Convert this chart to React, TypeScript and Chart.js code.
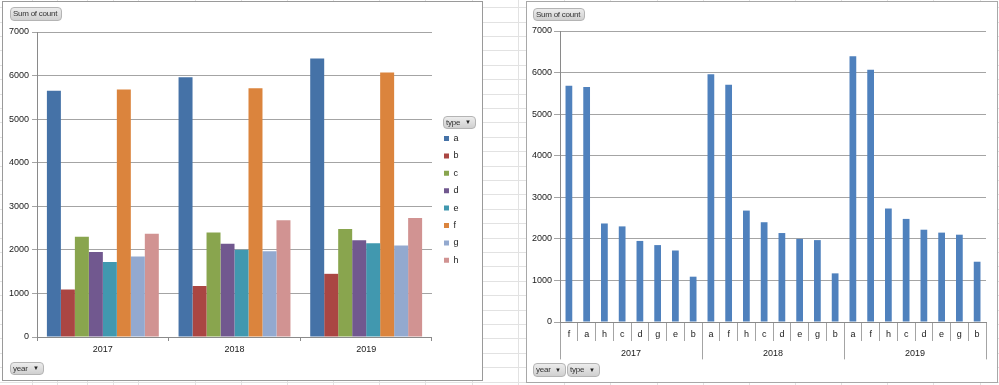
import React, { useEffect, useRef } from "react";
import { Chart, registerables } from "chart.js";
Chart.register(...registerables);

// ---------- data ----------
const years = ["2017", "2018", "2019"];
const types = ["a", "b", "c", "d", "e", "f", "g", "h"];
const countA = [5650, 5960, 6390];
const countB = [1090, 1170, 1450];
const countC = [2300, 2400, 2480];
const countD = [1950, 2140, 2220];
const countE = [1720, 2000, 2150];
const countF = [5680, 5710, 6070];
const countG = [1850, 1970, 2100];
const countH = [2370, 2680, 2730];
const seriesByType = [countA, countB, countC, countD, countE, countF, countG, countH];
const typeColors = ["#4572A7", "#AA4643", "#89A54E", "#71588F", "#4198AF", "#DB843D", "#93A9CF", "#D19392"];
const yMin = 0;
const yMax = 7000;
const yStep = 1000;

// right chart: per year, types sorted by count (descending)
const sortedPairs = years.flatMap((_, yi) =>
  types
    .map((t, ti) => ({ t, v: seriesByType[ti][yi] }))
    .sort((p, q) => q.v - p.v)
);
const sortedLabels = sortedPairs.map((p) => p.t);
const sortedValues = sortedPairs.map((p) => p.v);

const FONT = '"Liberation Sans", Arial, sans-serif';
const TXT = "#1a1a1a";
const GRID = "#a4a4a4";
const AXIS = "#8a8a8a";
const plain = (v: any) => String(v);

function LeftChart() {
  const ref = useRef<HTMLCanvasElement>(null);
  useEffect(() => {
    const chart = new Chart(ref.current!, {
      type: "bar",
      data: {
        labels: years,
        datasets: types.map((t, i) => ({
          label: t,
          data: seriesByType[i],
          backgroundColor: typeColors[i],
          borderWidth: 0,
          categoryPercentage: 0.85,
          barPercentage: 1,
        })),
      },
      options: {
        responsive: false,
        animation: false,
        events: [],
        layout: { padding: { left: 3, top: 30, right: 13.5, bottom: 22.2 } },
        plugins: {
          legend: {
            position: "right",
            labels: { boxWidth: 5, boxHeight: 5, padding: 8.4, color: TXT, font: { family: FONT, size: 9 } },
            title: { display: true, text: "", padding: 2, font: { size: 5, lineHeight: 1 } },
          },
          tooltip: { enabled: false },
        },
        scales: {
          x: {
            grid: { offset: true, drawOnChartArea: false, tickLength: 4, color: AXIS },
            border: { color: AXIS },
            ticks: { color: TXT, font: { family: FONT, size: 9 }, padding: 3 },
          },
          y: {
            min: yMin,
            max: yMax,
            ticks: { stepSize: yStep, color: TXT, font: { family: FONT, size: 9 }, padding: 3, callback: plain },
            grid: { color: GRID, tickLength: 5 },
            border: { color: AXIS },
          },
          yPad: {
            position: "right",
            display: true,
            grid: { display: false },
            border: { display: false },
            ticks: { display: false },
            afterFit: (s: any) => {
              s.width = 3.6;
            },
          },
        },
      } as any,
    });
    return () => chart.destroy();
  }, []);
  return <canvas ref={ref} width={479} height={378} style={{ position: "absolute", left: 0, top: 0 }} />;
}

function RightChart() {
  const ref = useRef<HTMLCanvasElement>(null);
  useEffect(() => {
    const chart = new Chart(ref.current!, {
      type: "bar",
      data: {
        labels: sortedLabels,
        datasets: [
          {
            label: "Sum of count",
            data: sortedValues,
            backgroundColor: "#4F81BD",
            borderWidth: 0,
            categoryPercentage: 1,
            barPercentage: 0.38,
          },
        ],
      },
      options: {
        responsive: false,
        animation: false,
        events: [],
        layout: { padding: { left: 3, top: 29, right: 11, bottom: 22.6 } },
        plugins: { legend: { display: false }, tooltip: { enabled: false } },
        scales: {
          x: {
            weight: 0,
            grid: { offset: true, drawOnChartArea: false, tickLength: 19, color: GRID },
            border: { color: AXIS },
            ticks: { autoSkip: false, maxRotation: 0, color: TXT, font: { family: FONT, size: 9 }, padding: -11.4 },
            afterFit: (s: any) => {
              s.height = 18.4;
            },
          },
          x2: {
            type: "category",
            labels: years,
            position: "bottom",
            weight: 1,
            offset: true,
            grid: { offset: true, drawOnChartArea: false, tickLength: 19, color: GRID },
            border: { display: false },
            ticks: { color: TXT, font: { family: FONT, size: 9 }, padding: -10.8 },
            afterFit: (s: any) => {
              s.height = 19;
            },
          },
          y: {
            min: yMin,
            max: yMax,
            ticks: { stepSize: yStep, color: TXT, font: { family: FONT, size: 9 }, padding: 2, callback: plain },
            grid: { color: GRID, tickLength: 6 },
            border: { color: AXIS },
          },
        },
      } as any,
    });
    return () => chart.destroy();
  }, []);
  return <canvas ref={ref} width={470} height={380} style={{ position: "absolute", left: 0, top: 0 }} />;
}

function FieldButton(props: { x: number; y: number; w: number; h: number; text: string; arrow?: boolean }) {
  const { x, y, w, h, text, arrow } = props;
  return (
    <div
      style={{
        position: "absolute",
        left: x,
        top: y,
        width: w,
        height: h,
        boxSizing: "border-box",
        border: "1px solid #b4b4b4",
        borderRadius: 4,
        background: "linear-gradient(#ececec, #d0d0d0)",
        fontFamily: FONT,
        fontSize: 8,
        letterSpacing: -0.25,
        color: "#333",
        lineHeight: `${h - 2}px`,
        paddingLeft: 2,
        whiteSpace: "nowrap",
        overflow: "hidden",
      }}
    >
      {text}
      {arrow ? (
        <span style={{ position: "absolute", right: 4, top: 0, fontSize: 6, color: "#222", letterSpacing: 0 }}>▼</span>
      ) : null}
    </div>
  );
}

const colLines = [32, 57, 87, 113, 138, 195, 241, 287, 333, 379, 425, 472, 518, 564, 610, 657, 703, 749, 795, 841, 887, 933, 980];
const rowLines = Array.from({ length: 27 }, (_, k) => 7.2 + k * 14.4);

export default function App() {
  return (
    <div style={{ position: "fixed", left: 0, top: 0, width: 999, height: 385, background: "#fff", overflow: "hidden" }}>
      {rowLines.map((y, i) => (
        <div key={"r" + i} style={{ position: "absolute", left: 0, top: Math.round(y), width: 999, height: 1, background: "#e2e2e2" }} />
      ))}
      {colLines.map((x, i) => (
        <div key={"c" + i} style={{ position: "absolute", left: x, top: 0, width: 1, height: 385, background: "#e2e2e2" }} />
      ))}
      <div
        style={{
          position: "absolute",
          left: 2,
          top: 1,
          width: 481,
          height: 380,
          boxSizing: "border-box",
          border: "1px solid #9a9a9a",
          background: "#fff",
        }}
      >
        <LeftChart />
        <FieldButton x={7} y={5} w={52} h={14} text="Sum of count" />
        <FieldButton x={440} y={114} w={33} h={13} text="type" arrow />
        <FieldButton x={7} y={360} w={34} h={13} text="year" arrow />
      </div>
      <div
        style={{
          position: "absolute",
          left: 526,
          top: 1,
          width: 472,
          height: 382,
          boxSizing: "border-box",
          border: "1px solid #a8a8a8",
          background: "#fff",
        }}
      >
        <RightChart />
        <FieldButton x={6} y={6} w={52} h={13} text="Sum of count" />
        <FieldButton x={6} y={361} w={33} h={14} text="year" arrow />
        <FieldButton x={40} y={361} w={33} h={14} text="type" arrow />
      </div>
    </div>
  );
}
